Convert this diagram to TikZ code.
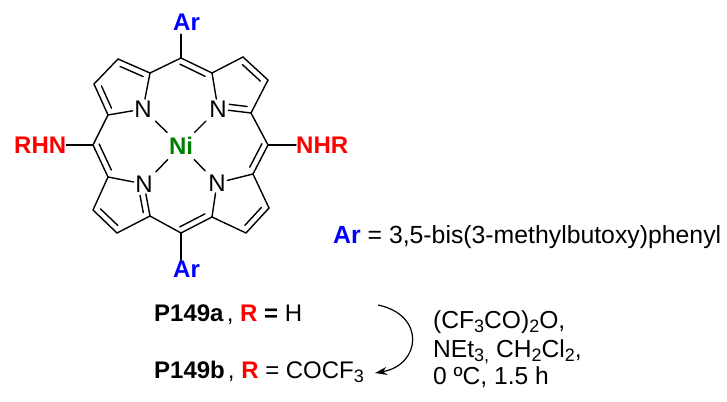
\documentclass[tikz,border=0pt]{standalone}
\usepackage{fontspec}
\setmainfont{Liberation Sans}
\usetikzlibrary{calc,arrows.meta}
\definecolor{arblue}{RGB}{0,0,255}
\definecolor{rhnred}{RGB}{255,0,0}
\definecolor{nigreen}{RGB}{0,128,0}
\newcommand{\lowr}[1]{\raisebox{-4pt}{\fontsize{18}{18}\selectfont #1}}
\tikzset{
  bond/.style={line width=1.4pt,line cap=round},
  atom/.style={inner sep=1.5pt,font=\fontsize{24}{24}\selectfont},
  lbl/.style={inner sep=0pt,anchor=base west,font=\fontsize{24}{24}\selectfont},
  reagent/.style={lbl,font=\fontsize{24.6}{24.6}\selectfont},
}
\begin{document}
\begin{tikzpicture}[x=1pt,y=-1pt]
  \useasboundingbox (0,0) rectangle (727,401);
  % ring atoms
  \foreach \name/\px/\py in {mt/181/58,mb/181/233,ml/93/145,mr/268/145,
    tlA/150/73,tlB/118/59,tlC/94/84,tlD/108/115,
    trA/212/73,trB/243/57,trC/268/80,trD/251/113,
    blA/150/216,blB/117/233,blC/93/210,blD/108/177,
    brA/212/217,brB/246/233,brC/269/208,brD/253/174}
    \coordinate (\name) at (\px,\py);
  \coordinate (arrS) at (378,305);
  \coordinate (arrE) at (375,373);

  \node[atom] (ntl) at (143,109) {N};
  \node[atom] (ntr) at (218,109) {N};
  \node[atom] (nbl) at (144,184) {N};
  \node[atom] (nbr) at (217,183) {N};
  \node[atom,text=nigreen,inner sep=4pt] (ni) at (181,146) {\textbf{Ni}};

  \node[lbl,text=arblue] (artop) at (173,31) {\textbf{Ar}};
  \node[lbl,text=arblue] (arbot) at (173,277) {\textbf{Ar}};
  \node[lbl,text=rhnred] (rhn) at (14,153) {\textbf{RHN}};
  \node[lbl,text=rhnred] (nhr) at (296,153) {\textbf{NHR}};
  \node[lbl,font=\fontsize{24.8}{24.8}\selectfont] (ardef) at (333,243) {\textcolor{arblue}{\textbf{Ar}} = 3,5-bis(3-methylbutoxy)phenyl};
  \node[lbl] (pa) at (154,321) {\textbf{P149a}\hspace{3pt}, \textcolor{rhnred}{\textbf{R}} \textbf{=} H};
  \node[lbl] (pb) at (154,378) {\textbf{P149b}\hspace{3pt}, \textcolor{rhnred}{\textbf{R}} = COCF\lowr{3}};
  \node[reagent] (rga) at (433,328) {(CF\lowr{3}CO)\lowr{2}O,};
  \node[reagent] (rgb) at (433,357) {NEt\lowr{3,} CH\lowr{2}Cl\lowr{2},};
  \node[reagent] (rgc) at (433,384) {0 ºC, 1.5 h};

  % single bonds
  \foreach \a/\b in {mt/tlA,tlA/tlB,tlB/tlC,tlC/tlD,tlD/ml,tlA/ntl,tlD/ntl,
    mt/trA,trA/trB,trB/trC,trC/trD,trD/mr,trA/ntr,trD/ntr,
    mr/brD,brD/brC,brC/brB,brB/brA,brA/mb,brD/nbr,brA/nbr,
    mb/blA,blA/blB,blB/blC,blC/blD,blD/ml,blA/nbl,blD/nbl}
    \draw[bond] (\a) -- (\b);
  \foreach \b in {ntl,ntr,nbl,nbr}
    \draw[bond,shorten <=1pt,shorten >=3pt] (ni) -- (\b);
  \draw[bond,shorten >=3pt] (mt) -- (mt |- artop.south);
  \draw[bond] (mb) -- (mb |- arbot.north);
  \draw[bond] (ml) -- (rhn.east |- ml);
  \draw[bond] (mr) -- (nhr.west |- mr);

  % second lines of the double bonds
  \foreach \a/\b/\s/\f/\g in {tlA/tlB/6/.14/.14,tlC/tlD/6/.14/.14,mt/trA/-6/.05/.14,
    trB/trC/-6/.14/.14,ntr/trD/6/.32/.14,mr/brD/-6/.05/.14,brA/mb/-6/.14/.05,
    brB/brC/6/.14/.14,ml/blD/6/.05/.14,blC/blB/6/.14/.14,nbl/blA/-6/.32/.14}
    \draw[bond] ($(\a)!\f!(\b)!\s pt!90:(\b)$) -- ($(\b)!\g!(\a)!-\s pt!90:(\a)$);

  \draw[line width=1.2pt,-{Stealth[length=12pt,width=8pt]}] (arrS)
    .. controls (426,315) and (421,365) .. (arrE);
\end{tikzpicture}
\end{document}
